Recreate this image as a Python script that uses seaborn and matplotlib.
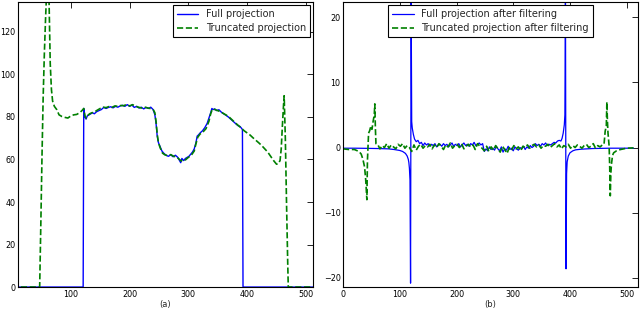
import matplotlib
matplotlib.use("Agg")
import matplotlib.pyplot as plt
import seaborn as sns

# ---- (a) raw projections ----
full_x = [0, 121, 122, 124, 126, 128, 131, 134, 137, 140,
          144, 148, 152, 156, 160, 164, 168, 172, 176, 180,
          184, 188, 192, 196, 200, 204, 208, 212, 216, 220,
          224, 228, 232, 236, 240, 243, 245, 247, 249, 252,
          255, 258, 262, 266, 270, 274, 278, 282, 285, 287,
          289, 292, 295, 298, 301, 304, 307, 310, 313, 315,
          317, 320, 324, 328, 332, 335, 338, 340, 342, 345,
          348, 352, 356, 360, 364, 368, 372, 376, 380, 384,
          388, 391, 392, 393, 512]
full_y = [0, 0, 84, 80, 79, 80.5, 81, 81.5, 82, 81.5,
          82.5, 83, 83.5, 84.5, 84, 84.5, 84.8, 84.3, 85, 84.6,
          85.2, 85.5, 85, 85.8, 85, 85.6, 84.5, 85, 84.2, 84.6,
          83.8, 84.5, 84, 84.6, 83.5, 81, 77, 71, 68, 66,
          64, 63, 62, 61.5, 62.2, 61.3, 62, 61, 59.5, 58.5,
          60.5, 59.5, 60.5, 61, 61.5, 62.5, 63.5, 65, 68, 71,
          71.5, 72.5, 73.5, 75, 77, 79.5, 82, 84, 83.5, 83.8,
          83, 83.4, 82.3, 81.5, 80.8, 80, 79, 78, 77, 76,
          75.5, 74.5, 74, 0, 0]

trunc_x = [0, 47, 49, 51, 53, 55, 57, 59, 61, 63,
           65, 67, 69, 72, 76, 80, 85, 90, 95, 100,
           105, 110, 115, 119, 122, 124, 126, 128, 132, 136,
           140, 145, 150, 155, 160, 165, 170, 175, 180, 185,
           190, 195, 200, 205, 210, 215, 220, 225, 230, 235,
           240, 243, 245, 247, 249, 252, 256, 260, 265, 270,
           275, 280, 285, 288, 291, 295, 300, 305, 310, 313,
           316, 320, 325, 330, 335, 338, 341, 345, 350, 355,
           360, 365, 370, 375, 380, 385, 390, 395, 400, 405,
           410, 415, 420, 425, 430, 435, 440, 445, 450, 453,
           456, 458, 460, 462, 463, 465, 467, 469, 470, 512]
trunc_y = [0, 0, 30, 62, 90, 110, 126, 140, 150, 134,
           105, 93, 87.5, 85, 83.5, 81, 80.2, 79.8, 79.5, 80.5,
           81, 81.2, 82, 83, 84, 80.5, 79.5, 80.5, 81.5, 82,
           82.3, 83.2, 84, 84.6, 84.4, 84.9, 84.5, 85.2, 85, 85.4,
           85.3, 85.9, 85.2, 85.8, 85.1, 84.6, 84.2, 84.7, 84.3, 84,
           83.6, 82, 78, 72, 68, 65.5, 63, 62.2, 61.8, 62.3,
           61.5, 61.2, 60, 59.3, 60, 59.8, 61, 62, 64, 67.5,
           70.5, 72, 73, 74.5, 78, 81.5, 83.8, 83.5, 83, 82.4,
           81.6, 80.8, 79.8, 78.5, 77.2, 76, 74.8, 73.5, 72.5, 71.5,
           70.2, 69, 67.8, 66.5, 65, 63.5, 61.5, 59.5, 57.8, 58,
           59.5, 65, 76, 86, 90, 70, 40, 12, 0, 0]

# ---- (b) filtered projections ----
ffull_head_x = [0, 20, 40, 60, 80, 90, 100, 105, 110, 113,
                115, 116, 117, 118, 119, 120, 121, 122, 124, 126]
ffull_head_y = [-0.1, -0.1, -0.12, -0.15, -0.2, -0.3, -0.45, -0.6, -0.9, -1.3,
                -1.8, -2.3, -3.2, -5, -20.8, 24, 4, 3, 2, 1.3]
ffull_mid_x = list(range(129, 379, 3))
ffull_mid_y = [0.9, 1.1, 0.6, 0.8, 0.3, 0.7, 0.4, 0.6, 0.2, 0.5,
               0.3, 0.6, 0.1, 0.4, 0.5, 0.2, 0.6, 0.3, 0.5, 0.1,
               0.4, 0.7, 0.2, 0.5, 0.3, 0.6, 0.1, 0.4, 0.7, 0.3,
               0.5, 0.2, 0.6, 0.4, 0.8, 0.3, 0.5, 0.7, 0.4, 0.6,
               -0.6, -0.2, -0.5, 0.1, -0.3, -0.1, -0.4, 0.2, -0.2, -0.5,
               0.1, -0.7, -0.2, -0.4, 0.2, -0.3, -0.1, -0.5, 0.1, -0.2,
               -0.4, 0.0, -0.2, 0.2, -0.3, 0.1, -0.1, 0.3, 0.0, 0.2,
               0.6, 0.3, 0.5, 0.2, 0.6, 0.4, 0.7, 0.3, 0.5, 0.4,
               0.6, 0.8, 0.7, 1.0]
ffull_tail_x = [381, 384, 386, 388, 390, 391, 392, 393, 394, 395,
                397, 400, 405, 410, 420, 440, 470, 512]
ffull_tail_y = [1.1, 1.0, 1.4, 2.2, 3.5, 5, 24, -18.6, -4, -2.2,
                -1.3, -0.8, -0.5, -0.35, -0.25, -0.15, -0.1, -0.1]

ftrunc_head_x = [0, 10, 20, 28, 32, 35, 38, 40, 42, 43,
                 45, 47, 49, 51, 53, 55, 56, 57, 58]
ftrunc_head_y = [-0.2, -0.3, -0.3, -0.6, -1.0, -1.8, -3, -5, -8, -2,
                 2.2, 2.6, 3.3, 2.8, 4, 5, 6.7, 3, 0.6]
ftrunc_mid_x = list(range(61, 458, 4))
ftrunc_mid_y = [0.5, -0.2, 0.3, 0.0, 0.6, -0.1, 0.4, 0.1, -0.2, 0.5,
                0.2, 0.6, -0.1, 0.3, 0.0, -0.6, 0.4, -0.4, 0.2, 0.5,
                -0.1, 0.3, 0.1, 0.5, -0.2, 0.4, 0.0, 0.6, 0.2, -0.3,
                0.4, 0.1, 0.7, -0.1, 0.3, 0.5, 0.0, 0.6, -0.2, 0.2,
                0.5, 0.1, 0.4, -0.3, 0.6, 0.2, -0.1, -0.5, 0.2, -0.6,
                0.1, -0.4, 0.3, -0.2, -0.7, 0.2, -0.3, -0.9, 0.0, -0.4,
                0.3, -0.2, 0.1, -0.5, 0.2, 0.0, 0.4, -0.1, 0.3, 0.5,
                0.1, 0.4, -0.1, 0.3, 0.2, 0.5, 0.0, 0.3, 0.6, 0.1,
                0.4, -0.2, 0.3, 0.1, 0.5, -0.1, 0.3, 0.0, 0.4, 0.2,
                -0.1, 0.3, 0.5, 0.0, 0.2, 0.6, -0.1, 0.3, 0.1, 0.4]
ftrunc_tail_x = [460, 462, 464, 465, 466, 467, 469, 470, 471, 472,
                 473, 475, 477, 482, 489, 500, 512]
ftrunc_tail_y = [0.5, 2.5, 3.3, 7, 4, 2.2, 0.2, -3, -7.4, -4,
                 -2.6, -1.2, -0.8, -0.5, -0.3, -0.1, -0.05]

ffull_x = ffull_head_x + ffull_mid_x + ffull_tail_x
ffull_y = ffull_head_y + ffull_mid_y + ffull_tail_y
ftrunc_x = ftrunc_head_x + ftrunc_mid_x + ftrunc_tail_x
ftrunc_y = ftrunc_head_y + ftrunc_mid_y + ftrunc_tail_y


def style_axes(ax):
    ax.tick_params(direction="in", top=True, right=True, length=4,
                   width=0.6, labelsize=5.8, pad=1.8, colors="black")
    for s in ax.spines.values():
        s.set_visible(True)
        s.set_color("black")
        s.set_linewidth(0.8)


def add_legend(ax, loc):
    leg = ax.legend(loc=loc, fontsize=7, frameon=True, fancybox=False,
                    edgecolor="black", framealpha=1, handlelength=2.2,
                    labelspacing=0.45, borderaxespad=0.3)
    leg.get_frame().set_linewidth(0.8)


def main():
    sns.set_style("white")
    plt.rcParams["font.family"] = ["DejaVu Sans"]

    fig = plt.figure(figsize=(6.4, 3.11), dpi=100)
    ax1 = fig.add_axes([0.028, 0.077, 0.461, 0.916])
    ax2 = fig.add_axes([0.536, 0.077, 0.461, 0.916])

    sns.lineplot(x=full_x, y=full_y, ax=ax1, color="blue", lw=1.0,
                 estimator=None, sort=False, label="Full projection")
    sns.lineplot(x=trunc_x, y=trunc_y, ax=ax1, color="green", lw=1.2,
                 linestyle="--", estimator=None, sort=False,
                 label="Truncated projection")
    ax1.set_xlim(10, 512)
    ax1.set_ylim(0, 134)
    ax1.set_xticks([100, 200, 300, 400, 500])
    ax1.set_yticks([0, 20, 40, 60, 80, 100, 120])
    ax1.set_xlabel("(a)", fontsize=6, labelpad=1)
    style_axes(ax1)
    add_legend(ax1, "upper right")

    sns.lineplot(x=ffull_x, y=ffull_y, ax=ax2, color="blue", lw=0.9,
                 estimator=None, sort=False, label="Full projection after filtering")
    sns.lineplot(x=ftrunc_x, y=ftrunc_y, ax=ax2, color="green", lw=1.2,
                 linestyle="--", estimator=None, sort=False,
                 label="Truncated projection after filtering")
    ax2.set_xlim(0, 520)
    ax2.set_ylim(-21.4, 22.3)
    ax2.set_xticks([0, 100, 200, 300, 400, 500])
    ax2.set_yticks([-20, -10, 0, 10, 20])
    ax2.set_xlabel("(b)", fontsize=6, labelpad=1)
    style_axes(ax2)
    add_legend(ax2, "upper center")

    fig.savefig("out.png", dpi=100)


if __name__ == "__main__":
    main()
